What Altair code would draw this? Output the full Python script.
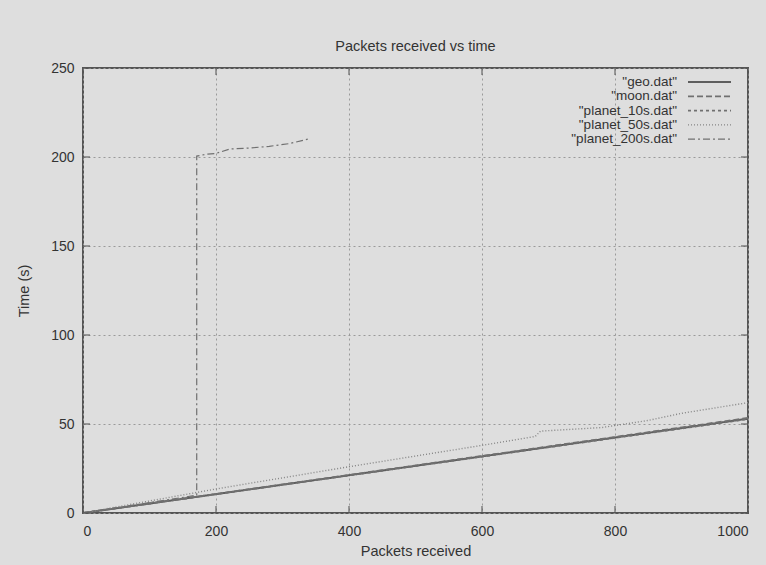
import altair as alt
import pandas as pd

# ---- data ----
series = ["geo.dat", "moon.dat", "planet_10s.dat", "planet_50s.dat", "planet_200s.dat"]

geo_x = [0, 1000]
geo_y = [0, 53.0]

moon_x = [0, 1000]
moon_y = [0, 53.4]

planet_10s_x = [0, 1000]
planet_10s_y = [0, 52.7]

planet_50s_x = [0, 200, 400, 600, 680, 688, 780, 850, 900, 1000]
planet_50s_y = [0, 13.5, 26, 38, 43, 46, 48, 52, 56, 62]

planet_200s_x = [0, 171, 171, 185, 200, 221, 250, 280, 310, 338]
planet_200s_y = [0, 10, 200.5, 201.5, 202, 204.5, 205, 206, 207.5, 210]

x_ticks = [0, 200, 400, 600, 800, 1000]
y_ticks = [0, 50, 100, 150, 200, 250]

# ---- styles ----
colors = ["#5e5e5e", "#707070", "#707070", "#858585", "#707070"]
widths = [2.0, 1.2, 1.2, 1.0, 1.2]
dashes = [[1, 0], [6, 3], [3, 3], [1, 2], [7, 3, 2, 3]]

W, H = 665, 445
FONT = "Liberation Sans"
TXT = "#333333"

rows = []
for name, xs, ys in [
    (series[0], geo_x, geo_y),
    (series[1], moon_x, moon_y),
    (series[2], planet_10s_x, planet_10s_y),
    (series[3], planet_50s_x, planet_50s_y),
    (series[4], planet_200s_x, planet_200s_y),
]:
    for i, (xv, yv) in enumerate(zip(xs, ys)):
        rows.append({"series": name, "x": xv, "y": yv, "i": i})
df = pd.DataFrame(rows)

color_enc = alt.Color("series:N", scale=alt.Scale(domain=series, range=colors), legend=None)
width_enc = alt.StrokeWidth("series:N", scale=alt.Scale(domain=series, range=widths), legend=None)
dash_enc = alt.StrokeDash("series:N", scale=alt.Scale(domain=series, range=dashes), legend=None)

xscale = alt.Scale(domain=[0, 1000], nice=False, zero=False)
yscale = alt.Scale(domain=[0, 250], nice=False, zero=False)

axis_common = dict(
    grid=True, gridColor="#9a9a9a", gridDash=[2, 3], gridWidth=1,
    domain=False, ticks=False, format="d", labelFont=FONT, labelFontSize=14, labelColor=TXT,
    titleFont=FONT, titleFontSize=14.5, titleColor=TXT, titleFontWeight="normal",
)

lines = alt.Chart(df).mark_line(clip=True).encode(
    x=alt.X("x:Q", scale=xscale, title="Packets received",
            axis=alt.Axis(values=x_ticks, labelPadding=11, titleY=38, titleBaseline="middle",
                          **axis_common)),
    y=alt.Y("y:Q", scale=yscale, title="Time (s)",
            axis=alt.Axis(values=y_ticks, labelPadding=9, titleX=-59, titleY=H / 2,
                          titleAngle=-90, titleBaseline="middle", titleAlign="center",
                          **axis_common)),
    color=color_enc, strokeWidth=width_enc, strokeDash=dash_enc,
    detail="series:N", order=alt.Order("i:Q"),
)

xt = pd.DataFrame({"v": x_ticks})
yt = pd.DataFrame({"v": y_ticks})
tick_style = dict(color="#555555", thickness=1.5, size=7)
xt_bottom = alt.Chart(xt).mark_tick(orient="vertical", **tick_style).encode(
    x=alt.X("v:Q", scale=xscale), y=alt.value(H - 3.5))
xt_top = alt.Chart(xt).mark_tick(orient="vertical", **tick_style).encode(
    x=alt.X("v:Q", scale=xscale), y=alt.value(3.5))
yt_left = alt.Chart(yt).mark_tick(orient="horizontal", **tick_style).encode(
    y=alt.Y("v:Q", scale=yscale), x=alt.value(3.5))
yt_right = alt.Chart(yt).mark_tick(orient="horizontal", **tick_style).encode(
    y=alt.Y("v:Q", scale=yscale), x=alt.value(W - 3.5))

main = alt.layer(lines, xt_bottom, xt_top, yt_left, yt_right)

# ---- legend (labels left, samples right, as in gnuplot) ----
leg = pd.DataFrame({
    "series": series,
    "label": ['"' + s + '"' for s in series],
    "row": list(range(len(series))),
})
leg_text = alt.Chart(leg).mark_text(
    align="right", baseline="middle", font=FONT, fontSize=13.5, color=TXT
).transform_calculate(ly="14 + datum.row * 14.3").encode(
    x=alt.value(594), y=alt.Y("ly:Q", scale=None, axis=None), text="label:N"
)
leg_line = alt.Chart(leg).mark_rule().transform_calculate(ly="14 + datum.row * 14.3").encode(
    x=alt.value(605), x2=alt.value(648), y=alt.Y("ly:Q", scale=None, axis=None),
    color=color_enc, strokeWidth=width_enc, strokeDash=dash_enc,
)
legend = alt.layer(leg_text, leg_line)

chart = alt.layer(main, legend).resolve_scale(x="independent", y="independent").properties(
    width=W, height=H,
    title=alt.TitleParams("Packets received vs time", font=FONT, fontSize=14.5,
                          fontWeight="normal", color=TXT, anchor="middle", offset=7),
    autosize=alt.AutoSizeParams(type="none"),
    padding={"left": 83, "top": 68, "right": 18, "bottom": 52},
    background="#dedede",
).configure_view(stroke="#555555", strokeWidth=2)

chart.save("out.html", embed_options={"renderer": "svg", "actions": False})
